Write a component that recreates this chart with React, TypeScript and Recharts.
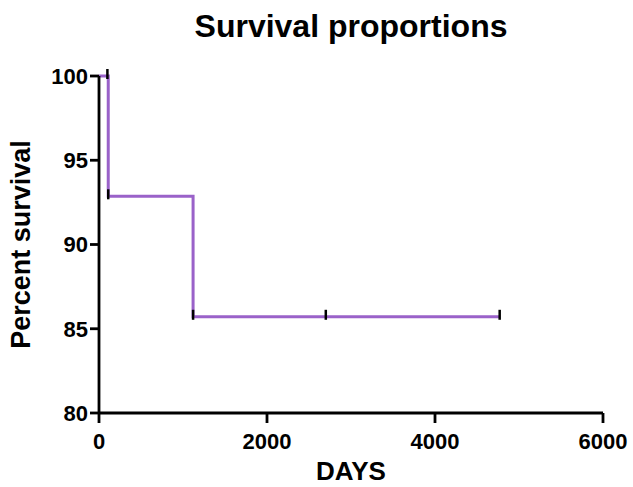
import React from 'react';
import { ComposedChart, Line, Scatter, XAxis, YAxis, Label } from 'recharts';

// Kaplan-Meier steps (days, percent surviving)
const stepDays = [0, 110, 1120, 4770];
const stepSurvival = [100, 92.86, 85.71, 85.71];

// censored observations (tick marks on the curve)
const censorDays = [100, 110, 1120, 2700, 4770];
const censorSurvival = [100, 92.86, 85.71, 85.71, 85.71];

const xTicks = [0, 2000, 4000, 6000];
const yTicks = [80, 85, 90, 95, 100];

const curve = stepDays.map((d, i) => ({ day: d, pct: stepSurvival[i] }));
const censored = censorDays.map((d, i) => ({ day: d, pct: censorSurvival[i] }));

const FONT = '"Liberation Sans", Arial, Helvetica, sans-serif';
const PURPLE = '#9a62c9';

const tickStyle = { fill: '#000', fontSize: 22, fontWeight: 'bold' as const, fontFamily: FONT };
const lineStyle = { stroke: '#000', strokeWidth: 2.8 };

const CensorMark = (props: any) => {
  const { cx, cy } = props;
  if (cx == null || cy == null) return null;
  return <line x1={cx} x2={cx} y1={cy - 7} y2={cy + 3} stroke="#000" strokeWidth={2.5} />;
};

export default function App() {
  return (
    <div style={{ position: 'absolute', left: 0, top: 0, width: 633, height: 487, background: '#fff' }}>
      <div
        style={{
          position: 'absolute',
          left: 99,
          width: 504,
          top: 10,
          textAlign: 'center',
          fontFamily: FONT,
          fontWeight: 'bold',
          fontSize: 32,
          lineHeight: '32px',
          color: '#000',
        }}
      >
        Survival proportions
      </div>
      <ComposedChart width={633} height={487} margin={{ top: 76, right: 30, left: 0, bottom: 0 }}>
        <XAxis
          dataKey="day"
          type="number"
          domain={[0, 6000]}
          ticks={xTicks}
          height={74}
          tickSize={10}
          tickMargin={10}
          tick={tickStyle}
          axisLine={lineStyle}
          tickLine={lineStyle}
        >
          <Label
            content={(p: any) => {
              const vb = p.viewBox;
              return (
                <text
                  x={vb.x + vb.width / 2}
                  y={480}
                  textAnchor="middle"
                  fontFamily={FONT}
                  fontWeight="bold"
                  fontSize={26}
                  fill="#000"
                >
                  DAYS
                </text>
              );
            }}
          />
        </XAxis>
        <YAxis
          type="number"
          domain={[80, 100]}
          ticks={yTicks}
          width={99}
          tickSize={9}
          tickMargin={2}
          tick={tickStyle}
          axisLine={lineStyle}
          tickLine={lineStyle}
        >
          <Label
            content={(p: any) => {
              const vb = p.viewBox;
              const cy = vb.y + vb.height / 2;
              return (
                <text
                  x={30}
                  y={cy}
                  transform={`rotate(-90 30 ${cy})`}
                  textAnchor="middle"
                  fontFamily={FONT}
                  fontWeight="bold"
                  fontSize={27}
                  fill="#000"
                >
                  Percent survival
                </text>
              );
            }}
          />
        </YAxis>
        <Line
          data={curve}
          dataKey="pct"
          type="stepAfter"
          stroke={PURPLE}
          strokeWidth={3}
          dot={false}
          activeDot={false}
          isAnimationActive={false}
        />
        <Scatter data={censored} dataKey="pct" shape={CensorMark} isAnimationActive={false} />
      </ComposedChart>
    </div>
  );
}
